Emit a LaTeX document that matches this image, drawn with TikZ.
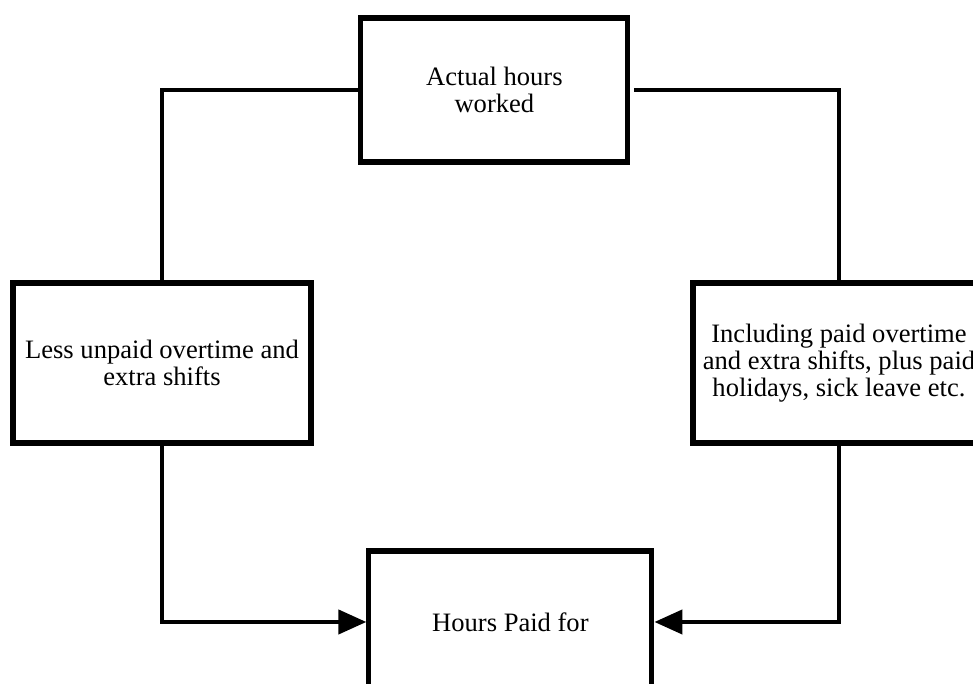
\documentclass[tikz,border=0pt]{standalone}
\usepackage{fontspec}
\setmainfont{Liberation Serif}
\usetikzlibrary{arrows.meta}

\begin{document}
\begin{tikzpicture}[auto,
    stage/.style ={draw, line width=3.6pt, inner sep=0pt, align=center,
                   font=\fontsize{18.9}{19.4}\selectfont},
    link/.style ={line width=3pt},
    feed/.style ={line width=3pt, -{Triangle[length=0.7cm, width=0.6cm]}}]
   \clip (0,0) rectangle (24.325,17.1);

   \node[stage, minimum width=6.675cm, minimum height=3.6cm] (actual) at (12.36,14.85) {Actual hours\\worked};
   \node[stage, minimum width=7.45cm, minimum height=4cm] (less) at (4.05,8.025) {Less unpaid overtime and\\extra shifts};
   \node[stage, minimum width=7.3cm, minimum height=4cm] (incl) at (20.975,8.025) {Including paid overtime\\and extra shifts, plus paid\\holidays, sick leave etc.};
   \node[stage, minimum width=7.075cm, minimum height=3.55cm] (paid) at (12.76,1.55) {Hours Paid for};

   \draw[link] (actual.west) -| (less.north);
   \draw[link, shorten <=0.1cm] (actual.east) -| (incl.north);
   \draw[feed] (less.south) |- (paid.west);
   \draw[feed] (incl.south) |- (paid.east);

 \end{tikzpicture}
\end{document}
